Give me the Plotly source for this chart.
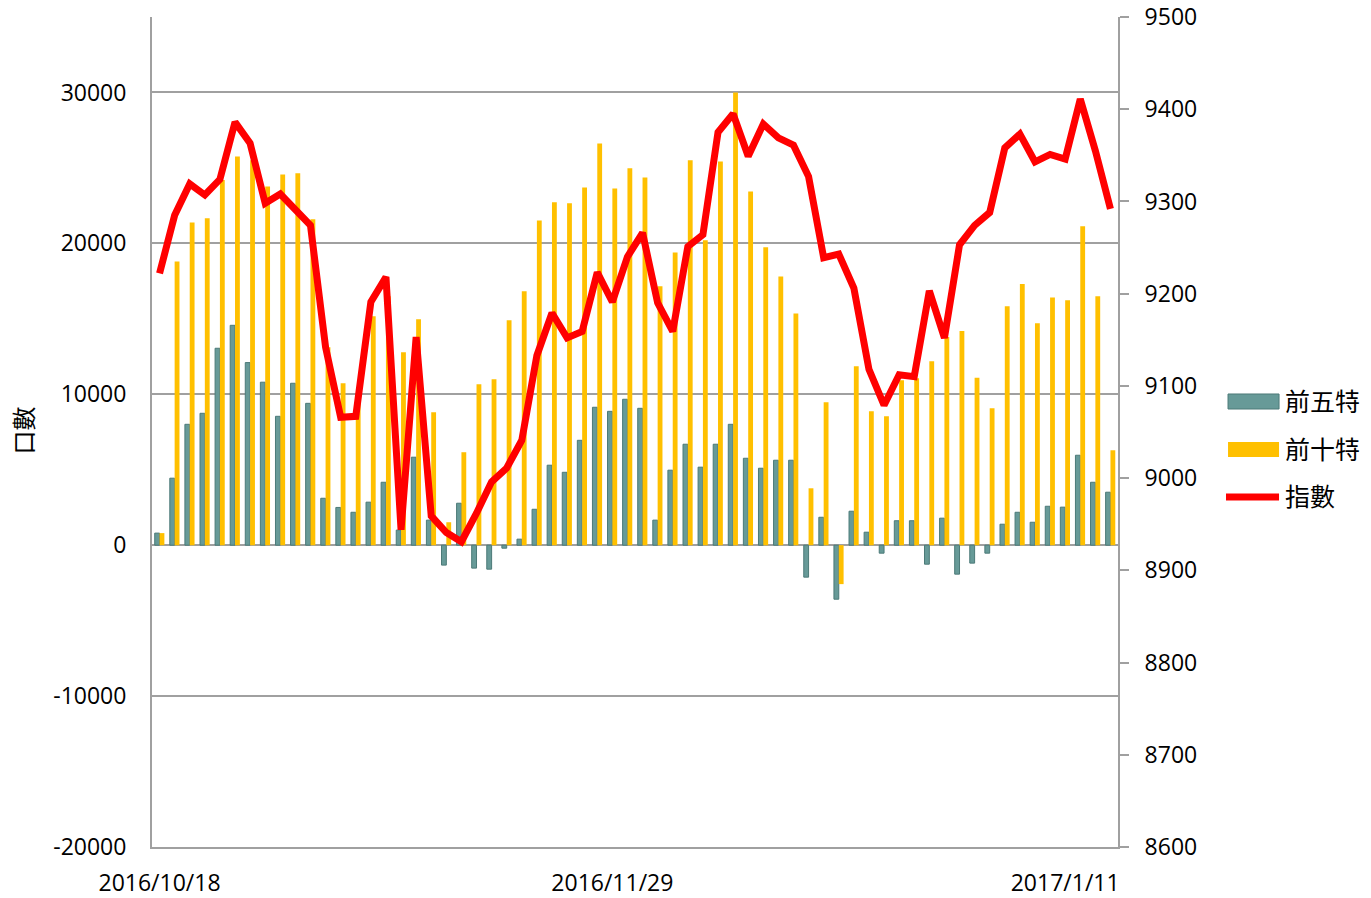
import plotly.graph_objects as go

# trading days 2016/10/18 - 2017/1/16
dates = [
    "2016/10/18", "2016/10/19", "2016/10/20", "2016/10/21", "2016/10/24", "2016/10/25",
    "2016/10/26", "2016/10/27", "2016/10/28", "2016/10/31",
    "2016/11/1", "2016/11/2", "2016/11/3", "2016/11/4", "2016/11/7", "2016/11/8",
    "2016/11/9", "2016/11/10", "2016/11/11", "2016/11/14", "2016/11/15", "2016/11/16",
    "2016/11/17", "2016/11/18", "2016/11/21", "2016/11/22", "2016/11/23", "2016/11/24",
    "2016/11/25", "2016/11/28", "2016/11/29", "2016/11/30",
    "2016/12/1", "2016/12/2", "2016/12/5", "2016/12/6", "2016/12/7", "2016/12/8",
    "2016/12/9", "2016/12/12", "2016/12/13", "2016/12/14", "2016/12/15", "2016/12/16",
    "2016/12/19", "2016/12/20", "2016/12/21", "2016/12/22", "2016/12/23", "2016/12/26",
    "2016/12/27", "2016/12/28", "2016/12/29", "2016/12/30",
    "2017/1/3", "2017/1/4", "2017/1/5", "2017/1/6", "2017/1/9", "2017/1/10",
    "2017/1/11", "2017/1/12", "2017/1/13", "2017/1/16",
]

top5 = [
    800, 4440, 8010, 8740, 13050, 14570, 12100, 10800, 8540, 10730,
    9400, 3110, 2500, 2180, 2850, 4170, 1000, 5830, 1660, -1320,
    2780, -1520, -1590, -200, 400, 2380, 5300, 4830, 6950, 9140,
    8870, 9670, 9070, 1660, 4970, 6690, 5170, 6690, 8010, 5760,
    5100, 5630, 5630, -2120, 1850, -3580, 2250, 860, -530, 1620,
    1620, -1260, 1790, -1920, -1190, -530, 1390, 2180, 1520, 2580,
    2520, 5960, 4170, 3510,
]

top10 = [
    800, 18800, 21390, 21660, 24200, 25760, 25500, 23770, 24570, 24640,
    21590, 13110, 10730, 9500, 15170, 16500, 12780, 14970, 8810, 1520,
    6160, 10660, 10990, 14900, 16820, 21520, 22720, 22650, 23710, 26620,
    23640, 24970, 24370, 17150, 19400, 25500, 20200, 25430, 30000, 23440,
    19740, 17810, 15360, 3770, 9470, -2580, 11850, 8870, 8540, 10930,
    11060, 12190, 13800, 14200, 11090, 9070, 15830, 17300, 14700, 16420,
    16230, 21130, 16490, 6290,
]

index = [
    9222, 9285, 9319, 9307, 9324, 9386, 9363, 9298, 9308, 9291,
    9274, 9142, 9066, 9067, 9191, 9218, 8944, 9153, 8959, 8941,
    8931, 8962, 8996, 9011, 9041, 9133, 9179, 9152, 9159, 9223,
    9191, 9240, 9266, 9190, 9159, 9251, 9264, 9375, 9395, 9349,
    9384, 9369, 9361, 9327, 9239, 9243, 9206, 9118, 9079, 9112,
    9110, 9203, 9152, 9253, 9274, 9288, 9358, 9373, 9343, 9351,
    9346, 9411, 9355, 9292,
]

tick_labels = ["2016/10/18", "2016/11/29", "2017/1/11"]
left_ticks = [-20000, -10000, 0, 10000, 20000, 30000]
series_names = ["前五特", "前十特", "指數"]

TEAL = "#679a98"
GOLD = "#ffc000"
RED = "#ff0000"
GRID = "#a0a0a0"
FONT = "Open Sans, Noto Sans CJK TC, sans-serif"

fig = go.Figure()
fig.add_trace(go.Bar(x=dates, y=top5, name=series_names[0],
                     marker=dict(color=TEAL, line=dict(color="#4c7a78", width=1))))
fig.add_trace(go.Bar(x=dates, y=top10, name=series_names[1],
                     marker=dict(color=GOLD, line=dict(width=0))))
fig.add_trace(go.Scatter(x=dates, y=index, name=series_names[2], yaxis="y2",
                         mode="lines", line=dict(color=RED, width=7)))

# hand made legend (wide swatches like the original)
shapes = [
    dict(type="rect", xref="paper", yref="paper", x0=1.1139, x1=1.1667, y0=0.5277, y1=0.5458,
         fillcolor=TEAL, line=dict(color="#4c7a78", width=1)),
    dict(type="rect", xref="paper", yref="paper", x0=1.1139, x1=1.1667, y0=0.4699, y1=0.4880,
         fillcolor=GOLD, line=dict(width=0)),
    dict(type="line", xref="paper", yref="paper", x0=1.1118, x1=1.1667, y0=0.4217, y1=0.4217,
         line=dict(color=RED, width=7)),
]
annotations = [
    dict(text=series_names[0], x=1.171, y=0.5373, xref="paper", yref="paper",
         xanchor="left", yanchor="middle", showarrow=False, font=dict(size=25)),
    dict(text=series_names[1], x=1.171, y=0.4795, xref="paper", yref="paper",
         xanchor="left", yanchor="middle", showarrow=False, font=dict(size=25)),
    dict(text=series_names[2], x=1.171, y=0.4230, xref="paper", yref="paper",
         xanchor="left", yanchor="middle", showarrow=False, font=dict(size=25)),
    dict(text="口數", x=-0.1335, y=0.502, xref="paper", yref="paper", textangle=-90,
         xanchor="center", yanchor="middle", showarrow=False, font=dict(size=24)),
]

fig.update_layout(
    width=1371, height=898,
    margin=dict(l=152, r=253, t=17, b=51),
    paper_bgcolor="white", plot_bgcolor="white",
    font=dict(family=FONT, size=23, color="black"),
    barmode="group", bargap=0.36, bargroupgap=0,
    showlegend=False,
    shapes=shapes, annotations=annotations,
    xaxis=dict(
        type="category", tickmode="array", automargin=False,
        tickvals=[dates[0], dates[30], dates[60]], ticktext=tick_labels,
        showgrid=False, showline=True, linecolor=GRID, linewidth=2,
        ticks="", ticklabelstandoff=14, tickfont=dict(size=23),
    ),
    yaxis=dict(
        range=[-20000, 35000], tickmode="array", automargin=False,
        tickvals=left_ticks, ticktext=[str(v) for v in left_ticks],
        showgrid=True, gridcolor=GRID, gridwidth=2,
        zeroline=True, zerolinecolor=GRID, zerolinewidth=2,
        showline=True, linecolor=GRID, linewidth=2,
        ticks="", ticklabelstandoff=19, tickfont=dict(size=23),
    ),
    yaxis2=dict(
        overlaying="y", side="right", automargin=False,
        range=[8600, 9500], tick0=8600, dtick=100,
        showgrid=False, zeroline=False,
        showline=True, linecolor=GRID, linewidth=2,
        ticks="outside", ticklen=9, tickwidth=2, tickcolor=GRID,
        ticklabelstandoff=11, ticklabeloverflow="allow", tickfont=dict(size=23),
    ),
)

# drop the default 8px page margin so the figure fills the window exactly
fig.write_html("out.html", config={"displayModeBar": False},
               post_script="document.body.style.margin='0';")
